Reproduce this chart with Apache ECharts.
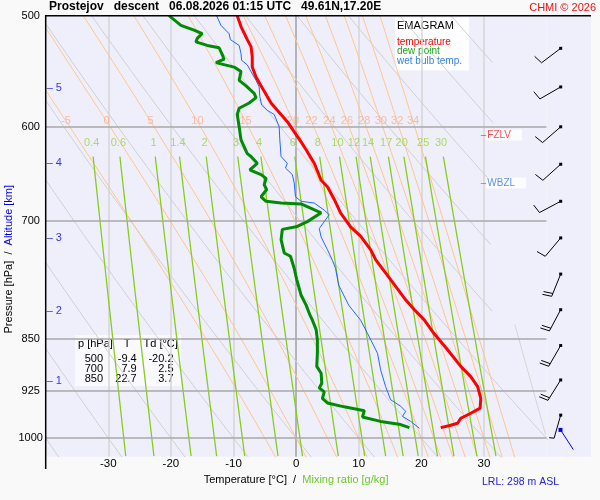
<!DOCTYPE html>
<html>
<head>
<meta charset="utf-8">
<script src="https://cdn.jsdelivr.net/npm/echarts@6.0.0/dist/echarts.min.js"></script>
<style>
  html, body { margin: 0; padding: 0; background: #f9f9f9; }
  #chart { width: 600px; height: 500px; }
</style>
</head>
<body>
<div id="chart"></div>
<script>
const FONT = 'Liberation Sans, Arial, sans-serif';
const PLOT_BG = '#efeffc';

// temperature profile (pressure hPa / degC)
const tempP = [500, 509, 520, 526, 535, 544, 553, 563, 571, 577, 584, 595, 605, 615, 623, 637, 655, 662, 676, 691,
  707, 718, 734, 746, 771, 797, 810, 824, 842, 865, 889, 904, 919, 937, 952, 960, 968, 976, 980, 983];
const tempT = [-9.4, -8.8, -7.8, -7.2, -7.0, -7.0, -6.4, -5.4, -4.6, -4.0, -3.0, -1.4, -0.3, 0.8, 1.6, 2.9, 4.0, 5.0, 6.1, 7.1,
  8.7, 10.3, 11.9, 12.7, 15.1, 17.5, 18.9, 20.5, 22.0, 24.2, 26.3, 27.9, 29.0, 29.5, 29.4, 27.9, 26.3, 25.8, 24.4, 23.1];

// dew point profile
const dewP = [500, 508, 512, 515, 519, 522, 525, 527, 533, 537, 540, 544, 548, 556, 561, 568, 572, 577, 582, 588,
  600, 613, 627, 630, 637, 644, 649, 653, 660, 665, 673, 678, 680, 681, 691, 701, 707, 710, 722, 738,
  742, 757, 771, 791, 804, 817, 824, 837, 851, 870, 889, 899, 914, 921, 927, 937, 944, 950, 956, 966,
  973, 978, 983];
const dewT = [-20.3, -18.4, -16.3, -15.0, -15.8, -16.0, -14.2, -12.3, -11.8, -11.5, -12.8, -9.9, -8.8, -9.1, -8.0, -6.7, -6.4, -7.5, -9.1, -9.4,
  -9.1, -8.8, -7.8, -7.2, -6.2, -7.4, -5.6, -4.8, -5.1, -4.7, -5.6, -4.8, -2.4, 0.8, 4.0, 1.8, 0.0, -2.2, -2.4, -1.9,
  -0.9, -0.3, 0.1, 0.8, 1.6, 2.2, 2.6, 3.2, 3.4, 3.4, 3.3, 4.0, 4.1, 3.7, 4.5, 4.2, 5.0, 7.7, 10.9, 10.6,
  13.5, 16.7, 18.1];

// wet bulb temperature profile
const wetP = [500, 508, 515, 520, 525, 532, 538, 542, 548, 556, 562, 571, 579, 584, 588, 600, 613, 630, 637, 642,
  649, 658, 673, 678, 680, 688, 693, 701, 709, 719, 734, 747, 757, 778, 804, 824, 842, 870, 894, 919,
  939, 949, 957, 965, 973, 984];
const wetT = [-12.7, -12.0, -10.7, -10.5, -9.1, -8.8, -8.7, -7.8, -7.2, -6.4, -5.9, -5.8, -5.5, -4.6, -3.5, -2.7, -2.6, -2.4, -1.4, -1.7,
  -0.6, -0.3, -0.1, 0.8, 2.9, 4.5, 5.3, 4.5, 3.7, 4.0, 5.0, 5.8, 6.3, 6.8, 8.4, 10.3, 11.4, 13.0, 13.5, 14.3,
  15.1, 16.7, 17.5, 17.0, 18.3, 19.7];

// wind barbs
const windP = [527.5, 562, 600, 638, 678, 720, 764, 810, 859, 909, 963];
const windDir = [233, 240, 229, 228, 242, 220, 202, 208, 210, 212, 196];
const windSpd = [10, 10, 10, 10, 10, 10, 20, 20, 20, 20, 5];
const barbX = 14.2;
// drift line at the bottom of the wind column
const driftX = [14.0, 26.8];
const driftP = [986.6, 1019];

// altitude marks
const altKm = [5, 4, 3, 2, 1];
const altP = [563, 637, 720, 812, 911];

// levels
const levelNames = ['FZLV', 'WBZL'];
const levelP = [608, 658];
const levelColors = ['#ff1a1a', '#3377dd'];

// table
const tableP = [500, 700, 850];
const tableT = [-9.4, 7.9, 22.7];
const tableTd = [-20.2, 2.5, 3.7];

// axes
const pressureTicks = [500, 600, 700, 850, 925, 1000];
const pressureLines = [600, 700, 850, 925, 1000];

// background diagram lines
const dryTheta = [-40, -30, -20, -10, 0, 10, 20, 30, 40, 50, 60, 70, 80, 90, 100, 110];
const moistThetaW = [-5, 0, 5, 10, 15, 20, 22, 24, 26, 28, 30, 32, 34];
const mixingRatios = [0.4, 0.6, 1, 1.4, 2, 3, 4, 6, 8, 10, 12, 14, 17, 20, 25, 30];

function pair(ts, ps) {
  return ts.map((t, i) => [t, ps[i]]);
}

// pseudo-adiabatic lapse rate dT/dp
function dTdp(t, p) {
  const T = t + 273.15;
  const es = 6.112 * Math.exp(17.67 * t / (t + 243.5));
  const r = 0.622 * es / (p - es);
  const Rd = 287.04, cp = 1005.7, L = 2.501e6;
  return (Rd * T + L * r) / (p * (cp + L * L * r * 0.622 / (Rd * T * T)));
}

function rk4(t, p, h) {
  const k1 = dTdp(t, p);
  const k2 = dTdp(t + h * k1 / 2, p + h / 2);
  const k3 = dTdp(t + h * k2 / 2, p + h / 2);
  const k4 = dTdp(t + h * k3, p + h);
  return t + h * (k1 + 2 * k2 + 2 * k3 + k4) / 6;
}

function moistProfile(tw) {
  const up = [[tw, 1000]], down = [];
  let t = tw, p = 1000;
  while (p > 500) { t = rk4(t, p, -2); p -= 2; up.push([t, p]); }
  t = tw; p = 1000;
  while (p < 1034) { t = rk4(t, p, 2); p += 2; down.push([t, p]); }
  return up.reverse().concat(down);
}

function tempAt(profile, p) {
  for (let i = 1; i < profile.length; i++) {
    if (profile[i][1] >= p) {
      const a = profile[i - 1], b = profile[i];
      return a[0] + (b[0] - a[0]) * (p - a[1]) / (b[1] - a[1]);
    }
  }
  return profile[profile.length - 1][0];
}

function mixingTd(w, p) {
  const e = w * p / (622 + w);
  const l = Math.log(e / 6.112);
  return 243.5 * l / (17.67 - l);
}

function bgLine(data, color, width, z) {
  return {
    type: 'line', data: data, symbol: 'none', silent: true, z: z,
    lineStyle: { color: color, width: width }, animation: false
  };
}

function labelSeries(items, color) {
  return {
    type: 'scatter', data: items, symbolSize: 0, silent: true, z: 5, animation: false,
    label: { show: true, position: 'inside', formatter: '{b}', color: color, fontSize: 11, fontFamily: FONT }
  };
}

const series = [];

// dry adiabats
dryTheta.forEach(th => {
  const pts = [];
  for (let p = 500; p <= 1034; p += 4) {
    const t = (th + 273.15) * Math.pow(p / 1000, 0.2857) - 273.15;
    if (t > 31.5 && p < 900) break;
    pts.push([t, p]);
  }
  if (pts.length > 1) series.push(bgLine(pts, '#cfcfcf', 1, 1));
});

// moist adiabats
const moistLabels = [];
moistThetaW.forEach(tw => {
  const prof = moistProfile(tw);
  series.push(bgLine(prof, '#ffc488', 1, 2));
  moistLabels.push({ value: [tempAt(prof, 594.6), 594.6], name: String(tw) });
});
const hotProf = moistProfile(40).filter(d => d[1] >= 830 && d[1] <= 995);
series.push(bgLine(hotProf, '#d4d4d4', 1, 1));
series.push(labelSeries(moistLabels, '#ffab85'));

// mixing ratio lines
const mixLabels = [];
mixingRatios.forEach(w => {
  const pts = [];
  for (let p = 630; p <= 1034; p += 8) pts.push([mixingTd(w, p), p]);
  series.push(bgLine(pts, '#88cc1a', 1.3, 3));
  mixLabels.push({ value: [mixingTd(w, 616), 616], name: String(w) });
});
series.push(labelSeries(mixLabels, '#99d540'));

// pressure grid lines
series.push({
  type: 'line', data: [], silent: true, z: 4, animation: false,
  markLine: {
    silent: true, symbol: 'none', animation: false,
    label: { show: false },
    lineStyle: { color: '#a9a9a9', width: 1.5, type: 'solid' },
    data: pressureLines.map(p => ({ yAxis: p }))
  }
});

// sounding profiles
series.push({
  name: 'wet bulb temp.', type: 'line', data: pair(wetT, wetP), symbol: 'none', z: 10,
  lineStyle: { color: '#2266ff', width: 1 }, animation: false
});
series.push({
  name: 'dew point', type: 'line', data: pair(dewT, dewP), symbol: 'none', z: 11,
  lineStyle: { color: '#008c00', width: 3 }, animation: false
});
series.push({
  name: 'temperature', type: 'line', data: pair(tempT, tempP), symbol: 'none', z: 12,
  lineStyle: { color: '#ff0000', width: 3 }, animation: false
});

// altitude marks
series.push({
  type: 'scatter', symbolSize: 0, silent: true, z: 6, animation: false,
  data: altP.map((p, i) => ({ value: [-40, p], name: String(altKm[i]) })),
  label: { show: true, position: 'right', distance: 1, formatter: '– {b}', color: '#0000ee', fontSize: 11, fontFamily: FONT }
});

// FZLV / WBZL
levelNames.forEach((nm, i) => {
  series.push({
    type: 'scatter', symbolSize: 0, silent: true, z: 6, animation: false,
    data: [{ value: [29.5, levelP[i]], name: nm }],
    label: {
      show: true, position: 'right', distance: 0,
      formatter: '{d|–}{t|{b}}',
      rich: {
        d: { color: levelColors[i], fontSize: 10, fontFamily: FONT },
        t: { color: levelColors[i], fontSize: 10, fontFamily: FONT, backgroundColor: '#ffffff', padding: [1, 11, 0, 1] }
      }
    }
  });
});

// wind barbs
series.push({
  type: 'custom', xAxisIndex: 1, yAxisIndex: 1, z: 8, silent: true, animation: false,
  data: windP.map((p, i) => [barbX, p, windDir[i], windSpd[i]]),
  renderItem: function (params, api) {
    const pt = api.coord([api.value(0), api.value(1)]);
    const dir = api.value(2) * Math.PI / 180;
    const spd = api.value(3);
    const ux = Math.sin(dir), uy = -Math.cos(dir);
    const ex = pt[0] + ux * 24, ey = pt[1] + uy * 24;
    const a = 80 * Math.PI / 180;
    const fx = ux * Math.cos(a) - uy * Math.sin(a);
    const fy = ux * Math.sin(a) + uy * Math.cos(a);
    const st = { stroke: '#000', lineWidth: 1 };
    const children = [
      { type: 'line', shape: { x1: pt[0], y1: pt[1], x2: ex, y2: ey }, style: st },
      { type: 'rect', shape: { x: pt[0] - 1.5, y: pt[1] - 1.5, width: 3, height: 3 }, style: { fill: '#000' } }
    ];
    const full = Math.floor(spd / 10);
    const half = spd % 10 >= 5;
    for (let k = 0; k < full; k++) {
      const bx = ex - ux * k * 3, by = ey - uy * k * 3;
      children.push({ type: 'line', shape: { x1: bx, y1: by, x2: bx + fx * 9.5, y2: by + fy * 9.5 }, style: st });
    }
    if (half) {
      const bx = ex - ux * full * 3, by = ey - uy * full * 3;
      children.push({ type: 'line', shape: { x1: bx, y1: by, x2: bx + fx * 5, y2: by + fy * 5 }, style: st });
    }
    return { type: 'group', children: children };
  }
});

series.push({
  type: 'line', xAxisIndex: 1, yAxisIndex: 1, silent: true, z: 8, animation: false,
  data: pair(driftX, driftP).map((d, i) => ({ value: d, symbolSize: i === 0 ? 4 : 0 })),
  symbol: 'rect', showSymbol: true,
  itemStyle: { color: '#0000ee' },
  lineStyle: { color: '#0000ee', width: 1 }
});

// table and legend boxes
const tableChildren = [
  { type: 'rect', shape: { x: 75, y: 335, width: 106, height: 51 }, style: { fill: 'rgba(255,255,255,0.6)' } },
  { type: 'text', x: 78, y: 343.5, style: { text: 'p [hPa]', fill: '#000', fontSize: 11, fontFamily: FONT, align: 'left', verticalAlign: 'middle' } },
  { type: 'text', x: 127, y: 343.5, style: { text: 'T', fill: '#000', fontSize: 11, fontFamily: FONT, align: 'center', verticalAlign: 'middle' } },
  { type: 'text', x: 143.5, y: 343.5, style: { text: 'Td [°C]', fill: '#000', fontSize: 11, fontFamily: FONT, align: 'left', verticalAlign: 'middle' } }
];
tableP.forEach((p, i) => {
  const y = 359 + i * 10.2;
  tableChildren.push({ type: 'text', x: 103, y: y, style: { text: String(p), fill: '#000', fontSize: 11, fontFamily: FONT, align: 'right', verticalAlign: 'middle' } });
  tableChildren.push({ type: 'text', x: 136.7, y: y, style: { text: tableT[i].toFixed(1), fill: '#000', fontSize: 11, fontFamily: FONT, align: 'right', verticalAlign: 'middle' } });
  tableChildren.push({ type: 'text', x: 173.5, y: y, style: { text: tableTd[i].toFixed(1), fill: '#000', fontSize: 11, fontFamily: FONT, align: 'right', verticalAlign: 'middle' } });
});

const legendItems = [
  ['EMAGRAM', '#000000', 11, 26],
  ['temperature', '#ff0000', 10, 42.3],
  ['dew point', '#22a022', 10, 51.7],
  ['wet bulb temp.', '#3380ee', 10, 61.7]
];
const legendChildren = [
  { type: 'rect', shape: { x: 395, y: 17.5, width: 74, height: 53 }, style: { fill: 'rgba(255,255,255,0.92)' } }
].concat(legendItems.map(it => ({
  type: 'text', x: 397, y: it[3],
  style: { text: it[0], fill: it[1], fontSize: it[2], fontFamily: FONT, align: 'left', verticalAlign: 'middle' }
})));

const chart = echarts.init(document.getElementById('chart'));

chart.setOption({
  backgroundColor: '#f9f9f9',
  animation: false,
  textStyle: { fontFamily: FONT },
  title: [
    {
      text: 'Prostejov   descent   06.08.2026 01:15 UTC   49.61N,17.20E',
      left: 49, top: 1, padding: 0,
      textStyle: { fontSize: 12, fontWeight: 'bold', color: '#000', fontFamily: FONT }
    },
    {
      text: 'CHMI © 2026',
      right: 4, top: 2, padding: 0,
      textStyle: { fontSize: 11, fontWeight: 'normal', color: '#ee1111', fontFamily: FONT }
    }
  ],
  grid: [
    {
      left: 45.7, top: 15.7, width: 500.8, height: 441, show: true, backgroundColor: PLOT_BG, borderWidth: 0,
      containLabel: false, outerBoundsMode: 'none'
    },
    {
      left: 546.5, top: 15.7, width: 44.5, height: 441, show: true, backgroundColor: PLOT_BG, borderWidth: 0,
      containLabel: false, outerBoundsMode: 'none'
    }
  ],
  xAxis: [
    {
      gridIndex: 0, type: 'value', min: -40, max: 40, interval: 10,
      axisLine: { show: false }, axisTick: { show: false },
      axisLabel: {
        formatter: v => (v === -40 || v === 40) ? '' : String(v),
        fontSize: 11.5, color: '#000', margin: 1, fontFamily: FONT
      },
      splitLine: {
        show: true,
        lineStyle: {
          width: 1.5,
          color: ['rgba(0,0,0,0)', '#d6d6d6', '#d6d6d6', '#d6d6d6', '#a0a0a0', '#d6d6d6', '#d6d6d6', '#d6d6d6', 'rgba(0,0,0,0)']
        }
      },
      name: '{t|Temperature [°C]  /  }{m|Mixing ratio [g/kg]}',
      nameLocation: 'middle', nameGap: 16,
      nameTextStyle: {
        rich: {
          t: { color: '#000', fontSize: 11, fontFamily: FONT },
          m: { color: '#6cc72a', fontSize: 11, fontFamily: FONT }
        }
      }
    },
    { gridIndex: 1, type: 'value', min: 0, max: 44.5, show: false }
  ],
  yAxis: [
    {
      gridIndex: 0, type: 'log', logBase: 10, min: 500, max: 1031, inverse: true,
      axisLine: { show: false }, axisTick: { show: false }, splitLine: { show: false },
      minorTick: { show: false }, minorSplitLine: { show: false },
      axisLabel: {
        customValues: pressureTicks, formatter: v => String(Math.round(v)),
        align: 'center', margin: 15, fontSize: 11, color: '#000', fontFamily: FONT
      },
      name: '{p|Pressure [hPa]  /  }{a|Altitude [km]}',
      nameLocation: 'middle', nameGap: 31, nameRotate: 90, nameMoveOverlap: false,
      nameTextStyle: {
        padding: [0, 46, 0, 0],
        rich: {
          p: { color: '#000', fontSize: 11, fontFamily: FONT },
          a: { color: '#0000ee', fontSize: 11, fontFamily: FONT }
        }
      }
    },
    { gridIndex: 1, type: 'log', logBase: 10, min: 500, max: 1031, inverse: true, show: false }
  ],
  graphic: [
    { type: 'line', z: 50, shape: { x1: 45.7, y1: 15, x2: 45.7, y2: 469 }, style: { stroke: '#000', lineWidth: 1.5 } },
    { type: 'line', z: 50, shape: { x1: 45, y1: 15.7, x2: 591, y2: 15.7 }, style: { stroke: '#000', lineWidth: 1.5 } },
    { type: 'group', z: 60, children: tableChildren },
    { type: 'group', z: 60, children: legendChildren },
    {
      type: 'text', x: 482, y: 482, z: 60,
      style: { text: 'LRL: 298 m ASL', fill: '#2222dd', fontSize: 10.5, fontFamily: FONT, align: 'left', verticalAlign: 'middle' }
    }
  ],
  series: series
});
</script>
</body>
</html>
